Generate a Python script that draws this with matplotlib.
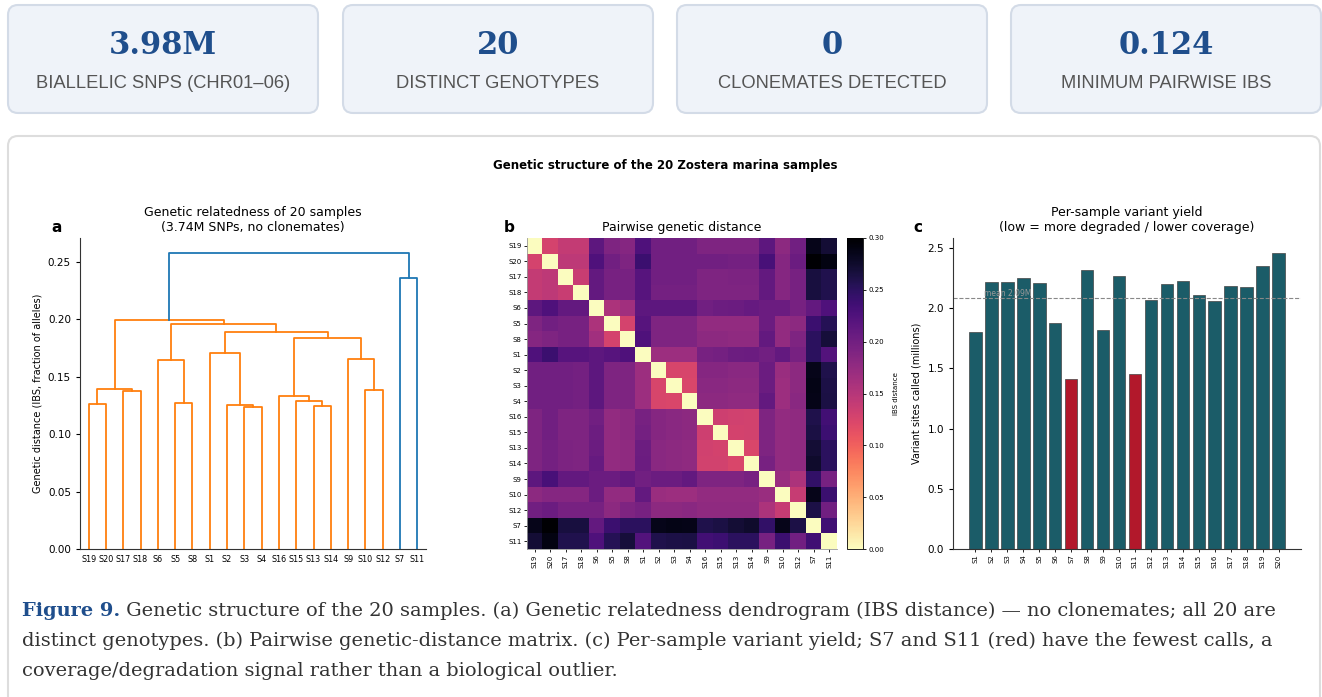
# Genetic structure of the 20 Zostera marina samples (cards + 3 panels + caption)

import numpy as np
import matplotlib
matplotlib.use('Agg')
import matplotlib.pyplot as plt
from matplotlib.patches import FancyBboxPatch

W, H = 1322, 697

# ---- summary cards ----
card_values = ['3.98M', '20', '0', '0.124']
card_labels = ['BIALLELIC SNPS (CHR01–06)', 'DISTINCT GENOTYPES',
               'CLONEMATES DETECTED', 'MINIMUM PAIRWISE IBS']

# ---- panel a: dendrogram (leaf order + merges with heights) ----
leaf_order = ['S19', 'S20', 'S17', 'S18', 'S6', 'S5', 'S8', 'S1', 'S2', 'S3',
              'S4', 'S16', 'S15', 'S13', 'S14', 'S9', 'S10', 'S12', 'S7', 'S11']
merges = [  # (left, right, height); merge k becomes cluster 'c<k>'
    ('S19', 'S20', 0.1267),
    ('S17', 'S18', 0.1375),
    ('c0', 'c1', 0.1395),
    ('S5', 'S8', 0.1273),
    ('S6', 'c3', 0.1645),
    ('S3', 'S4', 0.1241),
    ('S2', 'c5', 0.1253),
    ('S1', 'c6', 0.1712),
    ('S13', 'S14', 0.1244),
    ('S15', 'c8', 0.1291),
    ('S16', 'c9', 0.1331),
    ('S10', 'S12', 0.1387),
    ('S9', 'c11', 0.1660),
    ('c10', 'c12', 0.1843),
    ('c7', 'c13', 0.1887),
    ('c4', 'c14', 0.1965),
    ('c2', 'c15', 0.1997),
    ('S7', 'S11', 0.2363),
    ('c16', 'c17', 0.2581),
]
color_threshold = 0.21

# ---- panel b: pairwise IBS distance, upper triangle in leaf_order ----
ibs_upper = [
    [0.127, 0.140, 0.140, 0.215, 0.190, 0.185, 0.225, 0.200, 0.200, 0.200, 0.190, 0.190, 0.190, 0.190, 0.215, 0.180, 0.200, 0.285, 0.270],
    [0.145, 0.145, 0.225, 0.200, 0.190, 0.240, 0.200, 0.200, 0.200, 0.200, 0.200, 0.198, 0.198, 0.230, 0.185, 0.205, 0.300, 0.290],
    [0.137, 0.210, 0.195, 0.195, 0.220, 0.200, 0.200, 0.200, 0.190, 0.190, 0.192, 0.192, 0.210, 0.185, 0.195, 0.265, 0.258],
    [0.210, 0.195, 0.195, 0.220, 0.198, 0.198, 0.198, 0.190, 0.190, 0.190, 0.190, 0.210, 0.185, 0.195, 0.265, 0.258],
    [0.157, 0.165, 0.215, 0.215, 0.215, 0.215, 0.200, 0.203, 0.205, 0.208, 0.205, 0.205, 0.195, 0.210, 0.225],
    [0.127, 0.220, 0.190, 0.190, 0.190, 0.175, 0.175, 0.175, 0.175, 0.205, 0.175, 0.180, 0.240, 0.255],
    [0.225, 0.190, 0.190, 0.190, 0.180, 0.180, 0.178, 0.178, 0.210, 0.175, 0.190, 0.250, 0.268],
    [0.168, 0.168, 0.168, 0.195, 0.198, 0.203, 0.205, 0.200, 0.210, 0.195, 0.250, 0.222],
    [0.125, 0.125, 0.185, 0.185, 0.182, 0.182, 0.205, 0.170, 0.180, 0.285, 0.260],
    [0.124, 0.182, 0.182, 0.180, 0.180, 0.205, 0.168, 0.180, 0.288, 0.262],
    [0.180, 0.180, 0.178, 0.178, 0.210, 0.168, 0.182, 0.287, 0.263],
    [0.133, 0.131, 0.130, 0.190, 0.175, 0.178, 0.260, 0.235],
    [0.128, 0.130, 0.190, 0.175, 0.178, 0.263, 0.238],
    [0.124, 0.190, 0.175, 0.178, 0.270, 0.250],
    [0.195, 0.175, 0.178, 0.275, 0.250],
    [0.170, 0.157, 0.245, 0.195],
    [0.138, 0.285, 0.240],
    [0.262, 0.200],
    [0.236],
]

# ---- panel c: variant sites per sample (millions) ----
samples = ['S%d' % i for i in range(1, 21)]
variant_sites = [1.805, 2.220, 2.220, 2.251, 2.209, 1.877, 1.412, 2.317, 1.819, 2.270,
                 1.453, 2.068, 2.204, 2.229, 2.110, 2.063, 2.187, 2.179, 2.350, 2.460]
low_samples = ['S7', 'S11']

caption_lines = [
    ' Genetic structure of the 20 samples. (a) Genetic relatedness dendrogram (IBS distance) — no clonemates; all 20 are',
    'distinct genotypes. (b) Pairwise genetic-distance matrix. (c) Per-sample variant yield; S7 and S11 (red) have the fewest calls, a',
    'coverage/degradation signal rather than a biological outlier.',
]

BLUE = '#1f4e8c'


def px_axes(fig, left, top, right, bottom):
    return fig.add_axes([left / W, 1 - bottom / H, (right - left) / W, (bottom - top) / H])


def style_spines(ax):
    for s in ['top', 'right']:
        ax.spines[s].set_visible(False)
    for s in ['left', 'bottom']:
        ax.spines[s].set_color('#333333')
        ax.spines[s].set_linewidth(0.8)


def draw_background(fig):
    ax = fig.add_axes([0, 0, 1, 1])
    ax.set_xlim(0, W)
    ax.set_ylim(H, 0)
    ax.axis('off')
    lefts = [8, 343, 677, 1011]
    for i in range(4):
        ax.add_patch(FancyBboxPatch((lefts[i], 5), 310, 108, boxstyle='round,pad=0,rounding_size=10',
                                    facecolor='#eff3f9', edgecolor='#d3dbe7', lw=1.5))
        ax.text(lefts[i] + 155, 46, card_values[i], ha='center', va='center', fontsize=22,
                fontweight='bold', family='DejaVu Serif', color=BLUE)
        ax.text(lefts[i] + 155, 83, card_labels[i], ha='center', va='center', fontsize=13.2,
                family='Liberation Sans', color='#555555')
    ax.add_patch(FancyBboxPatch((8, 136), 1312, 580, boxstyle='round,pad=0,rounding_size=10',
                                facecolor='white', edgecolor='#dddddd', lw=1.5))
    return ax


def draw_caption(fig, ax):
    r = fig.canvas.get_renderer()
    probe = ax.text(0, 0, caption_lines[1], fontsize=10, family='DejaVu Serif')
    fs = 10 * 1249.0 / probe.get_window_extent(r).width
    probe.remove()
    base = [616, 646, 676]
    t = ax.text(22, base[0], 'Figure 9.', fontsize=fs, fontweight='bold', family='DejaVu Serif',
                color=BLUE, va='baseline')
    bb = t.get_window_extent(r)
    x_end = ax.transData.inverted().transform((bb.x1, bb.y0))[0]
    ax.text(x_end, base[0], caption_lines[0], fontsize=fs, family='DejaVu Serif', color='#333333', va='baseline')
    for k in [1, 2]:
        ax.text(22, base[k], caption_lines[k], fontsize=fs, family='DejaVu Serif', color='#333333', va='baseline')


def draw_dendrogram(ax):
    pos = {}
    hgt = {}
    for i, name in enumerate(leaf_order):
        pos[name] = 5.0 + 10.0 * i
        hgt[name] = 0.0
    for k, (a, b, h) in enumerate(merges):
        col = '#ff7f0e' if h < color_threshold else '#1f77b4'
        ax.plot([pos[a], pos[a], pos[b], pos[b]], [hgt[a], h, h, hgt[b]], color=col, lw=1.3)
        pos['c%d' % k] = 0.5 * (pos[a] + pos[b])
        hgt['c%d' % k] = h
    top = max(m[2] for m in merges)
    ax.set_xlim(0, 10 * len(leaf_order))
    ax.set_ylim(0, top * 1.05)
    ax.set_xticks([5 + 10 * i for i in range(len(leaf_order))])
    ax.set_xticklabels(leaf_order, fontsize=5.8)
    ax.tick_params(axis='x', length=0, pad=4)
    ax.set_yticks([0, 0.05, 0.10, 0.15, 0.20, 0.25])
    ax.tick_params(axis='y', labelsize=7.5, length=3)
    ax.set_ylabel('Genetic distance (IBS, fraction of alleles)', fontsize=7)
    ax.set_title('Genetic relatedness of 20 samples\n(3.74M SNPs, no clonemates)', fontsize=9, pad=5)
    style_spines(ax)


def draw_heatmap(fig, ax):
    n = len(leaf_order)
    mat = np.zeros((n, n))
    for i, row in enumerate(ibs_upper):
        for j, v in enumerate(row):
            mat[i, i + 1 + j] = v
            mat[i + 1 + j, i] = v
    im = ax.imshow(mat, cmap='magma_r', vmin=0, vmax=0.30, aspect='auto', interpolation='nearest')
    ax.set_xticks(range(n))
    ax.set_yticks(range(n))
    ax.set_xticklabels(leaf_order, rotation=90, fontsize=5)
    ax.set_yticklabels(leaf_order, fontsize=5)
    ax.tick_params(length=2, width=0.6, pad=2)
    ax.set_title('Pairwise genetic distance', fontsize=9, pad=5)
    for s in ['top', 'right']:
        ax.spines[s].set_visible(False)
    for s in ['left', 'bottom']:
        ax.spines[s].set_color('#999999')
        ax.spines[s].set_linewidth(0.6)
    cax = px_axes(fig, 847, 238, 863, 549)
    cb = fig.colorbar(im, cax=cax, ticks=[0, 0.05, 0.10, 0.15, 0.20, 0.25, 0.30], format='%.2f')
    cb.ax.tick_params(labelsize=5, length=2, width=0.6, pad=2)
    cb.outline.set_linewidth(0.6)
    cb.set_label('IBS distance', fontsize=5, labelpad=6)


def draw_bars(ax):
    x = np.arange(len(samples))
    colors = ['#b2182b' if s in low_samples else '#1b5c68' for s in samples]
    ax.bar(x, variant_sites, width=0.8, color=colors, edgecolor='#444444', linewidth=0.5)
    mean = np.mean(variant_sites)
    ax.axhline(mean, color='#888888', ls='--', lw=0.8)
    ax.text(0.55, mean + 0.015, 'mean %.2fM' % mean, fontsize=5.5, color='#999999')
    ax.set_ylim(0, max(variant_sites) * 1.05)
    ax.set_xticks(x)
    ax.set_xticklabels(samples, rotation=90, fontsize=5)
    ax.tick_params(axis='x', length=2, width=0.6, pad=2)
    ax.tick_params(axis='y', labelsize=7.5, length=3)
    ax.set_ylabel('Variant sites called (millions)', fontsize=7)
    ax.set_title('Per-sample variant yield\n(low = more degraded / lower coverage)', fontsize=9, pad=5)
    style_spines(ax)


if __name__ == "__main__":
    fig = plt.figure(figsize=(W / 100.0, H / 100.0), dpi=100)
    ax_bg = draw_background(fig)
    ax_bg.text(665, 165, 'Genetic structure of the 20 Zostera marina samples', ha='center', va='center',
               fontsize=8.5, fontweight='bold')
    for lab, xx in [('a', 57), ('b', 509), ('c', 918)]:
        ax_bg.text(xx, 228, lab, ha='center', va='center', fontsize=11, fontweight='bold')

    ax_a = px_axes(fig, 80, 238, 426, 549)
    draw_dendrogram(ax_a)
    ax_b = px_axes(fig, 527, 238, 837, 549)
    draw_heatmap(fig, ax_b)
    ax_c = px_axes(fig, 953, 238, 1301, 549)
    draw_bars(ax_c)

    draw_caption(fig, ax_bg)
    fig.savefig('out.png', dpi=100)
